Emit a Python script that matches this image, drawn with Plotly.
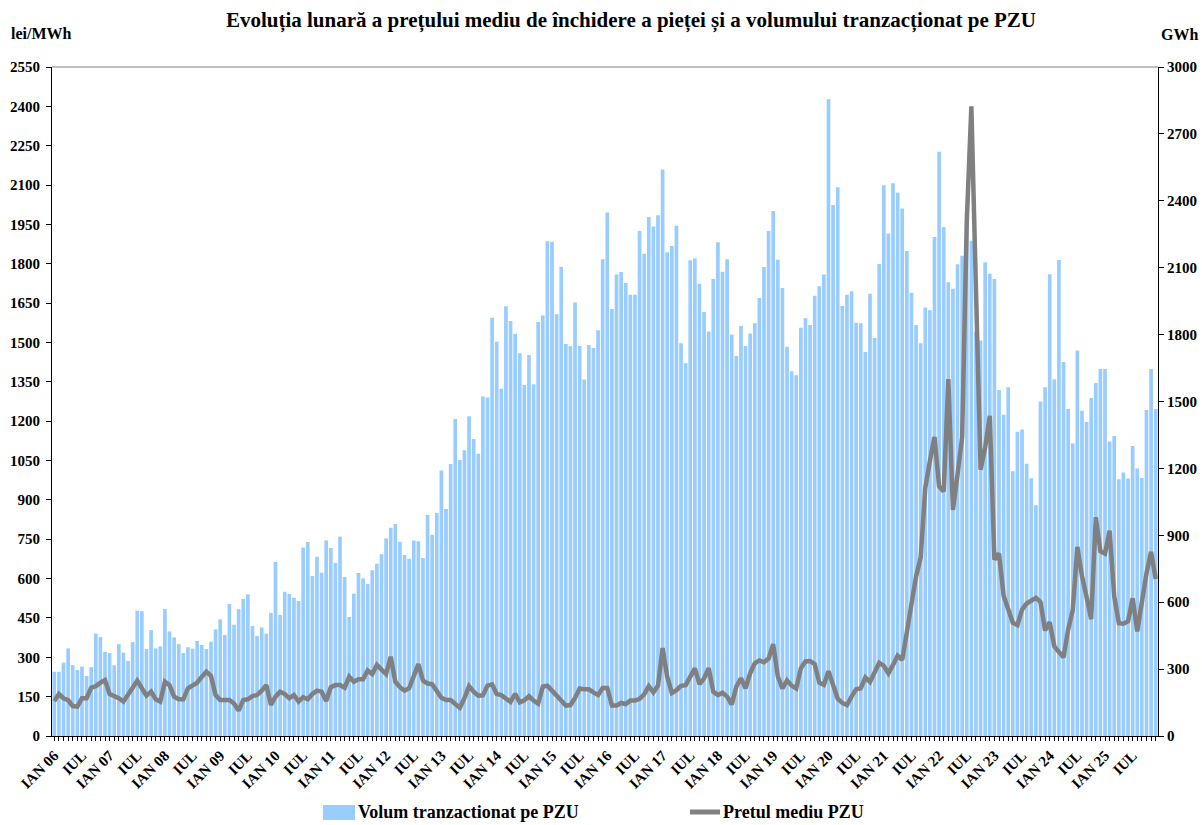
import plotly.graph_objects as go

# ---- data (Jan 2006 .. Dec 2025, monthly) ----
volume_gwh = [
    288, 288, 329, 393, 318, 296, 311, 269, 309, 459, 444, 377,   # 2006
    372, 317, 412, 374, 336, 421, 562, 560, 390, 475, 393, 402,   # 2007
    569, 469, 442, 412, 372, 398, 392, 426, 408, 390, 423, 478,   # 2008
    523, 453, 592, 499, 569, 614, 635, 493, 448, 487, 459, 552,   # 2009
    780, 543, 647, 637, 620, 605, 845, 870, 717, 804, 732, 877,   # 2010
    843, 776, 894, 713, 534, 638, 731, 707, 682, 743, 773, 815,   # 2011
    886, 934, 951, 871, 812, 794, 877, 873, 798, 991, 903, 1000,  # 2012
    1191, 1018, 1220, 1422, 1238, 1281, 1434, 1332, 1266, 1522, 1518, 1876,  # 2013
    1768, 1557, 1927, 1861, 1804, 1716, 1574, 1709, 1577, 1857, 1886, 2219,  # 2014
    2216, 1891, 2103, 1758, 1748, 1944, 1749, 1599, 1753, 1740, 1819, 2138,  # 2015
    2348, 1915, 2070, 2081, 2031, 1979, 1979, 2265, 2163, 2327, 2285, 2335,  # 2016
    2540, 2169, 2197, 2288, 1761, 1672, 2133, 2141, 2028, 1901, 1814, 2049,  # 2017
    2214, 2082, 2138, 1800, 1704, 1839, 1749, 1805, 1851, 1964, 2103, 2265,  # 2018
    2354, 2136, 2009, 1746, 1636, 1618, 1831, 1873, 1843, 1974, 2017, 2070,  # 2019
    2855, 2381, 2461, 1928, 1979, 1994, 1853, 1851, 1722, 1983, 1785, 2117,  # 2020
    2470, 2253, 2479, 2436, 2366, 2175, 1988, 1843, 1761, 1922, 1909, 2238,  # 2021
    2620, 2282, 2035, 2006, 2116, 2154, 2350, 2221, 1812, 1773, 2125, 2073,  # 2022
    2049, 1552, 1441, 1564, 1187, 1364, 1375, 1221, 1156, 1035, 1500, 1564,  # 2023
    2071, 1600, 2135, 1677, 1466, 1312, 1729, 1459, 1408, 1516, 1583, 1646,  # 2024
    1646, 1321, 1345, 1151, 1182, 1155, 1300, 1199, 1157, 1462, 1646, 1466,  # 2025
]

price_lei = [
    133, 160, 144, 137, 114, 112, 144, 144, 184, 190, 203, 213,   # 2006
    160, 152, 144, 131, 156, 182, 211, 182, 154, 169, 140, 131,   # 2007
    207, 194, 150, 140, 140, 182, 194, 203, 225, 245, 229, 156,   # 2008
    137, 137, 137, 124, 97, 137, 140, 152, 156, 173, 194, 118,    # 2009
    150, 169, 160, 144, 156, 131, 148, 140, 160, 173, 169, 133,   # 2010
    186, 194, 194, 184, 226, 207, 216, 216, 250, 236, 271, 253,   # 2011
    236, 302, 207, 186, 173, 182, 226, 274, 211, 200, 197, 173,   # 2012
    146, 137, 137, 122, 108, 144, 190, 169, 154, 155, 192, 197,   # 2013
    160, 156, 141, 130, 161, 128, 136, 152, 135, 123, 188, 192,   # 2014
    173, 156, 135, 116, 118, 145, 181, 178, 178, 166, 156, 183,   # 2015
    183, 116, 116, 126, 122, 135, 135, 142, 159, 190, 166, 192,   # 2016
    335, 226, 164, 175, 191, 194, 226, 258, 198, 220, 258, 169,   # 2017
    156, 165, 150, 120, 188, 220, 182, 239, 277, 288, 281, 295,   # 2018
    350, 227, 181, 212, 192, 181, 258, 284, 286, 274, 203, 195,   # 2019
    247, 191, 142, 126, 118, 150, 178, 182, 223, 206, 239, 279,   # 2020
    267, 239, 271, 306, 290, 391, 487, 608, 680, 945, 1049, 1140,  # 2021
    952, 932, 1360, 862, 997, 1139, 1960, 2400, 1700, 1015, 1100, 1220,  # 2022
    672, 696, 535, 480, 431, 423, 482, 505, 515, 527, 510, 402,   # 2023
    434, 342, 320, 300, 405, 480, 721, 610, 530, 445, 834, 704,   # 2024
    695, 783, 533, 430, 428, 437, 525, 399, 510, 620, 702, 598,   # 2025
]

series_names = ["Volum tranzactionat pe PZU", "Pretul mediu PZU"]
series_colors = ["#99CCFF", "#808080"]

first_year = 6
month_idx = list(range(len(volume_gwh)))
tick_text = []
for i in month_idx:
    if i % 12 == 0:
        tick_text.append("IAN %02d" % (first_year + i // 12))
    elif i % 12 == 6:
        tick_text.append("IUL")
    else:
        tick_text.append("")

FONT = "Liberation Serif, Times New Roman, serif"

# plot-area geometry in pixels (for placing the hand-made legend)
W, H = 1202, 825
ML, MR, MT, MB = 52, 44, 67, 89
PW, PH = W - ML - MR, H - MT - MB


def px(xp):
    return (xp - ML) / PW


def py(yp):
    return (H - MB - yp) / PH


fig = go.Figure()
fig.add_trace(go.Bar(
    x=month_idx, y=volume_gwh, name=series_names[0],
    marker=dict(color=series_colors[0], line=dict(width=0)),
    yaxis="y", showlegend=False,
))
fig.add_trace(go.Scatter(
    x=month_idx, y=price_lei, name=series_names[1],
    mode="lines", line=dict(color=series_colors[1], width=4.5),
    yaxis="y2", showlegend=False,
))

LEG_Y = 812

fig.update_layout(
    width=W, height=H,
    paper_bgcolor="white", plot_bgcolor="white",
    margin=dict(l=ML, r=MR, t=MT, b=MB, autoexpand=False),
    bargap=0.2,
    font=dict(family=FONT, color="black"),
    title=dict(
        text="<b>Evoluția lunară a prețului mediu de închidere a pieței și a volumului tranzacționat pe PZU</b>",
        x=631 / W, xref="container", xanchor="center",
        y=1 - 20 / H, yref="container", yanchor="middle",
        font=dict(size=21, family=FONT, color="black"),
    ),
    xaxis=dict(
        range=[-0.5, len(month_idx) - 0.5], automargin=False,
        tickmode="array", tickvals=month_idx, ticktext=tick_text,
        tickangle=-45, ticks="outside", ticklen=4, tickcolor="black",
        tickfont=dict(size=15, family=FONT, weight="bold"),
        showline=True, linecolor="black", linewidth=1,
        showgrid=False, zeroline=False,
    ),
    yaxis=dict(
        side="right", range=[0, 3000], dtick=300, tick0=0, automargin=False,
        ticks="outside", ticklen=5, tickcolor="black",
        tickfont=dict(size=15, family=FONT, weight="bold"),
        showline=True, linecolor="black", linewidth=1,
        showgrid=False, zeroline=False,
    ),
    yaxis2=dict(
        side="left", overlaying="y", range=[0, 2550], dtick=150, tick0=0,
        automargin=False, ticklabelstandoff=3,
        ticks="outside", ticklen=5, tickcolor="black",
        tickfont=dict(size=15, family=FONT, weight="bold"),
        showline=True, linecolor="black", linewidth=1,
        showgrid=False, zeroline=False,
    ),
    showlegend=False,
    shapes=[
        dict(type="line", xref="paper", yref="paper", x0=0, x1=1, y0=1, y1=1,
             line=dict(color="#7f7f7f", width=1)),
        # legend symbols
        dict(type="rect", xref="paper", yref="paper",
             x0=px(323), x1=px(355), y0=py(LEG_Y + 8), y1=py(LEG_Y - 7),
             fillcolor=series_colors[0], line=dict(width=0)),
        dict(type="line", xref="paper", yref="paper",
             x0=px(690), x1=px(720), y0=py(LEG_Y), y1=py(LEG_Y),
             line=dict(color=series_colors[1], width=5)),
    ],
    annotations=[
        dict(text="<b>lei/MWh</b>", xref="paper", yref="paper", x=px(9), y=py(33),
             xanchor="left", yanchor="middle", showarrow=False,
             font=dict(size=16, family=FONT)),
        dict(text="<b>GWh</b>", xref="paper", yref="paper", x=px(1159), y=py(35),
             xanchor="left", yanchor="middle", showarrow=False,
             font=dict(size=16, family=FONT)),
        dict(text="<b>" + series_names[0] + "</b>", xref="paper", yref="paper",
             x=px(356), y=py(LEG_Y), xanchor="left", yanchor="middle", showarrow=False,
             font=dict(size=18, family=FONT)),
        dict(text="<b>" + series_names[1] + "</b>", xref="paper", yref="paper",
             x=px(721), y=py(LEG_Y), xanchor="left", yanchor="middle", showarrow=False,
             font=dict(size=18, family=FONT)),
    ],
)

fig.write_html(
    "out.html",
    config={"displayModeBar": False},
    post_script="document.body.style.margin='0';document.body.style.overflow='hidden';",
)
